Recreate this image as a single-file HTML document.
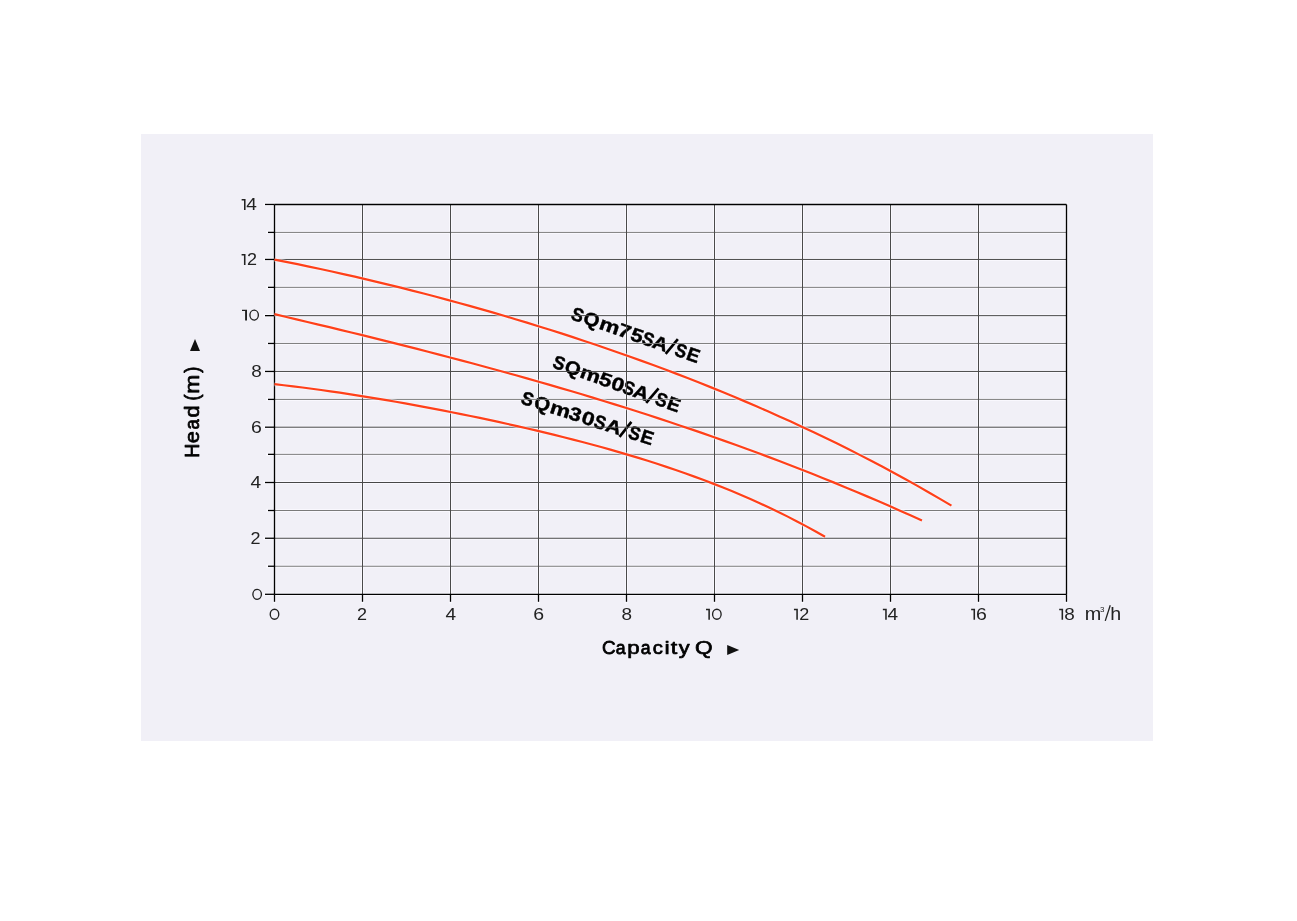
<!DOCTYPE html>
<html><head><meta charset="utf-8"><title>Pump curve</title>
<style>html,body{margin:0;padding:0;background:#fff;width:1297px;height:921px;overflow:hidden;font-family:"Liberation Sans",sans-serif}</style>
</head><body>
<svg width="1297" height="921" viewBox="0 0 1297 921" style="display:block;position:absolute;left:0;top:0;will-change:transform">
<rect x="0" y="0" width="1297" height="921" fill="#ffffff"/>
<rect x="141" y="134" width="1012" height="607" fill="#f1f0f7"/>
<g fill="none">
<line x1="274.50" y1="566.25" x2="1066.50" y2="566.25" stroke="#f9f8fe" stroke-width="3.00" stroke-linecap="square"/>
<line x1="274.50" y1="538.25" x2="1066.50" y2="538.25" stroke="#f9f8fe" stroke-width="3.00" stroke-linecap="square"/>
<line x1="274.50" y1="510.50" x2="1066.50" y2="510.50" stroke="#f9f8fe" stroke-width="3.00" stroke-linecap="square"/>
<line x1="274.50" y1="482.50" x2="1066.50" y2="482.50" stroke="#f9f8fe" stroke-width="3.00" stroke-linecap="square"/>
<line x1="274.50" y1="454.35" x2="1066.50" y2="454.35" stroke="#f9f8fe" stroke-width="3.00" stroke-linecap="square"/>
<line x1="274.50" y1="427.20" x2="1066.50" y2="427.20" stroke="#f9f8fe" stroke-width="3.00" stroke-linecap="square"/>
<line x1="274.50" y1="399.40" x2="1066.50" y2="399.40" stroke="#f9f8fe" stroke-width="3.00" stroke-linecap="square"/>
<line x1="274.50" y1="371.45" x2="1066.50" y2="371.45" stroke="#f9f8fe" stroke-width="3.00" stroke-linecap="square"/>
<line x1="274.50" y1="343.45" x2="1066.50" y2="343.45" stroke="#f9f8fe" stroke-width="3.00" stroke-linecap="square"/>
<line x1="274.50" y1="315.65" x2="1066.50" y2="315.65" stroke="#f9f8fe" stroke-width="3.00" stroke-linecap="square"/>
<line x1="274.50" y1="287.35" x2="1066.50" y2="287.35" stroke="#f9f8fe" stroke-width="3.00" stroke-linecap="square"/>
<line x1="274.50" y1="259.45" x2="1066.50" y2="259.45" stroke="#f9f8fe" stroke-width="3.00" stroke-linecap="square"/>
<line x1="274.50" y1="232.40" x2="1066.50" y2="232.40" stroke="#f9f8fe" stroke-width="3.00" stroke-linecap="square"/>
<line x1="362.50" y1="204.45" x2="362.50" y2="594.30" stroke="#f9f8fe" stroke-width="3.00" stroke-linecap="square"/>
<line x1="450.50" y1="204.45" x2="450.50" y2="594.30" stroke="#f9f8fe" stroke-width="3.00" stroke-linecap="square"/>
<line x1="538.50" y1="204.45" x2="538.50" y2="594.30" stroke="#f9f8fe" stroke-width="3.00" stroke-linecap="square"/>
<line x1="626.50" y1="204.45" x2="626.50" y2="594.30" stroke="#f9f8fe" stroke-width="3.00" stroke-linecap="square"/>
<line x1="714.50" y1="204.45" x2="714.50" y2="594.30" stroke="#f9f8fe" stroke-width="3.00" stroke-linecap="square"/>
<line x1="802.50" y1="204.45" x2="802.50" y2="594.30" stroke="#f9f8fe" stroke-width="3.00" stroke-linecap="square"/>
<line x1="890.50" y1="204.45" x2="890.50" y2="594.30" stroke="#f9f8fe" stroke-width="3.00" stroke-linecap="square"/>
<line x1="978.50" y1="204.45" x2="978.50" y2="594.30" stroke="#f9f8fe" stroke-width="3.00" stroke-linecap="square"/>
<line x1="265.00" y1="594.30" x2="274.50" y2="594.30" stroke="#f9f8fe" stroke-width="3.30" stroke-linecap="square"/>
<line x1="268.00" y1="566.25" x2="274.50" y2="566.25" stroke="#f9f8fe" stroke-width="3.30" stroke-linecap="square"/>
<line x1="265.00" y1="538.25" x2="274.50" y2="538.25" stroke="#f9f8fe" stroke-width="3.30" stroke-linecap="square"/>
<line x1="268.00" y1="510.50" x2="274.50" y2="510.50" stroke="#f9f8fe" stroke-width="3.30" stroke-linecap="square"/>
<line x1="265.00" y1="482.50" x2="274.50" y2="482.50" stroke="#f9f8fe" stroke-width="3.30" stroke-linecap="square"/>
<line x1="268.00" y1="454.35" x2="274.50" y2="454.35" stroke="#f9f8fe" stroke-width="3.30" stroke-linecap="square"/>
<line x1="265.00" y1="427.20" x2="274.50" y2="427.20" stroke="#f9f8fe" stroke-width="3.30" stroke-linecap="square"/>
<line x1="268.00" y1="399.40" x2="274.50" y2="399.40" stroke="#f9f8fe" stroke-width="3.30" stroke-linecap="square"/>
<line x1="265.00" y1="371.45" x2="274.50" y2="371.45" stroke="#f9f8fe" stroke-width="3.30" stroke-linecap="square"/>
<line x1="268.00" y1="343.45" x2="274.50" y2="343.45" stroke="#f9f8fe" stroke-width="3.30" stroke-linecap="square"/>
<line x1="265.00" y1="315.65" x2="274.50" y2="315.65" stroke="#f9f8fe" stroke-width="3.30" stroke-linecap="square"/>
<line x1="268.00" y1="287.35" x2="274.50" y2="287.35" stroke="#f9f8fe" stroke-width="3.30" stroke-linecap="square"/>
<line x1="265.00" y1="259.45" x2="274.50" y2="259.45" stroke="#f9f8fe" stroke-width="3.30" stroke-linecap="square"/>
<line x1="268.00" y1="232.40" x2="274.50" y2="232.40" stroke="#f9f8fe" stroke-width="3.30" stroke-linecap="square"/>
<line x1="265.00" y1="204.45" x2="274.50" y2="204.45" stroke="#f9f8fe" stroke-width="3.30" stroke-linecap="square"/>
<line x1="274.50" y1="594.30" x2="274.50" y2="601.80" stroke="#f9f8fe" stroke-width="3.30" stroke-linecap="square"/>
<line x1="362.50" y1="594.30" x2="362.50" y2="601.80" stroke="#f9f8fe" stroke-width="3.30" stroke-linecap="square"/>
<line x1="450.50" y1="594.30" x2="450.50" y2="601.80" stroke="#f9f8fe" stroke-width="3.30" stroke-linecap="square"/>
<line x1="538.50" y1="594.30" x2="538.50" y2="601.80" stroke="#f9f8fe" stroke-width="3.30" stroke-linecap="square"/>
<line x1="626.50" y1="594.30" x2="626.50" y2="601.80" stroke="#f9f8fe" stroke-width="3.30" stroke-linecap="square"/>
<line x1="714.50" y1="594.30" x2="714.50" y2="601.80" stroke="#f9f8fe" stroke-width="3.30" stroke-linecap="square"/>
<line x1="802.50" y1="594.30" x2="802.50" y2="601.80" stroke="#f9f8fe" stroke-width="3.30" stroke-linecap="square"/>
<line x1="890.50" y1="594.30" x2="890.50" y2="601.80" stroke="#f9f8fe" stroke-width="3.30" stroke-linecap="square"/>
<line x1="978.50" y1="594.30" x2="978.50" y2="601.80" stroke="#f9f8fe" stroke-width="3.30" stroke-linecap="square"/>
<line x1="1066.50" y1="594.30" x2="1066.50" y2="601.80" stroke="#f9f8fe" stroke-width="3.30" stroke-linecap="square"/>
<line x1="274.50" y1="204.45" x2="1066.50" y2="204.45" stroke="#f9f8fe" stroke-width="3.35" stroke-linecap="square"/>
<line x1="274.50" y1="594.30" x2="1066.50" y2="594.30" stroke="#f9f8fe" stroke-width="3.35" stroke-linecap="square"/>
<line x1="274.50" y1="204.45" x2="274.50" y2="594.30" stroke="#f9f8fe" stroke-width="3.35" stroke-linecap="square"/>
<line x1="1066.50" y1="204.45" x2="1066.50" y2="594.30" stroke="#f9f8fe" stroke-width="3.35" stroke-linecap="square"/>
</g>
<g transform="translate(696.58,363.19) rotate(19.2)"><text transform="matrix(0.17780,0,0,0.18823,-133.991,-0.225)" font-size="100" font-weight="bold" fill="#000" stroke="#000" stroke-width="0.45" stroke-linejoin="round" vector-effect="non-scaling-stroke" font-family="Liberation Sans, sans-serif">S</text><text transform="matrix(0.20504,0,0,0.18823,-121.316,-0.225)" font-size="100" font-weight="bold" fill="#000" stroke="#000" stroke-width="0.45" stroke-linejoin="round" vector-effect="non-scaling-stroke" font-family="Liberation Sans, sans-serif">Q</text><text transform="matrix(0.22964,0,0,0.18823,-104.553,-0.225)" font-size="100" font-weight="bold" fill="#000" stroke="#000" stroke-width="0.45" stroke-linejoin="round" vector-effect="non-scaling-stroke" font-family="Liberation Sans, sans-serif">m</text><text transform="matrix(0.22964,0,0,0.18823,-84.772,-0.225)" font-size="100" font-weight="bold" fill="#000" stroke="#000" stroke-width="0.45" stroke-linejoin="round" vector-effect="non-scaling-stroke" font-family="Liberation Sans, sans-serif">7</text><text transform="matrix(0.22032,0,0,0.18823,-71.358,-0.225)" font-size="100" font-weight="bold" fill="#000" stroke="#000" stroke-width="0.45" stroke-linejoin="round" vector-effect="non-scaling-stroke" font-family="Liberation Sans, sans-serif">5</text><text transform="matrix(0.17317,0,0,0.18823,-59.089,-0.225)" font-size="100" font-weight="bold" fill="#000" stroke="#000" stroke-width="0.45" stroke-linejoin="round" vector-effect="non-scaling-stroke" font-family="Liberation Sans, sans-serif">S</text><text transform="matrix(0.21386,0,0,0.18823,-48.310,-0.225)" font-size="100" font-weight="bold" fill="#000" stroke="#000" stroke-width="0.45" stroke-linejoin="round" vector-effect="non-scaling-stroke" font-family="Liberation Sans, sans-serif">A</text><text transform="matrix(0.17317,0,0,0.18823,-24.589,-0.225)" font-size="100" font-weight="bold" fill="#000" stroke="#000" stroke-width="0.45" stroke-linejoin="round" vector-effect="non-scaling-stroke" font-family="Liberation Sans, sans-serif">S</text><text transform="matrix(0.18984,0,0,0.18823,-12.147,-0.225)" font-size="100" font-weight="bold" fill="#000" stroke="#000" stroke-width="0.45" stroke-linejoin="round" vector-effect="non-scaling-stroke" font-family="Liberation Sans, sans-serif">E</text><line x1="-32.3" y1="1.3" x2="-25.6" y2="-16.6" stroke="#000" stroke-width="2.6"/></g><g transform="translate(677.03,412.58) rotate(19.8)"><text transform="matrix(0.17613,0,0,0.18823,-133.586,-0.225)" font-size="100" font-weight="bold" fill="#000" stroke="#000" stroke-width="0.45" stroke-linejoin="round" vector-effect="non-scaling-stroke" font-family="Liberation Sans, sans-serif">S</text><text transform="matrix(0.20360,0,0,0.18823,-121.010,-0.225)" font-size="100" font-weight="bold" fill="#000" stroke="#000" stroke-width="0.45" stroke-linejoin="round" vector-effect="non-scaling-stroke" font-family="Liberation Sans, sans-serif">Q</text><text transform="matrix(0.22964,0,0,0.18823,-104.453,-0.225)" font-size="100" font-weight="bold" fill="#000" stroke="#000" stroke-width="0.45" stroke-linejoin="round" vector-effect="non-scaling-stroke" font-family="Liberation Sans, sans-serif">m</text><text transform="matrix(0.22837,0,0,0.18823,-84.683,-0.225)" font-size="100" font-weight="bold" fill="#000" stroke="#000" stroke-width="0.45" stroke-linejoin="round" vector-effect="non-scaling-stroke" font-family="Liberation Sans, sans-serif">5</text><text transform="matrix(0.22964,0,0,0.18823,-71.522,-0.225)" font-size="100" font-weight="bold" fill="#000" stroke="#000" stroke-width="0.45" stroke-linejoin="round" vector-effect="non-scaling-stroke" font-family="Liberation Sans, sans-serif">0</text><text transform="matrix(0.17317,0,0,0.18823,-59.289,-0.225)" font-size="100" font-weight="bold" fill="#000" stroke="#000" stroke-width="0.45" stroke-linejoin="round" vector-effect="non-scaling-stroke" font-family="Liberation Sans, sans-serif">S</text><text transform="matrix(0.21386,0,0,0.18823,-48.310,-0.225)" font-size="100" font-weight="bold" fill="#000" stroke="#000" stroke-width="0.45" stroke-linejoin="round" vector-effect="non-scaling-stroke" font-family="Liberation Sans, sans-serif">A</text><text transform="matrix(0.17317,0,0,0.18823,-24.589,-0.225)" font-size="100" font-weight="bold" fill="#000" stroke="#000" stroke-width="0.45" stroke-linejoin="round" vector-effect="non-scaling-stroke" font-family="Liberation Sans, sans-serif">S</text><text transform="matrix(0.18984,0,0,0.18823,-12.147,-0.225)" font-size="100" font-weight="bold" fill="#000" stroke="#000" stroke-width="0.45" stroke-linejoin="round" vector-effect="non-scaling-stroke" font-family="Liberation Sans, sans-serif">E</text><line x1="-32.3" y1="1.3" x2="-25.6" y2="-16.6" stroke="#000" stroke-width="2.6"/></g><g transform="translate(650.68,445.54) rotate(17.8)"><text transform="matrix(0.17780,0,0,0.18823,-137.291,-0.225)" font-size="100" font-weight="bold" fill="#000" stroke="#000" stroke-width="0.45" stroke-linejoin="round" vector-effect="non-scaling-stroke" font-family="Liberation Sans, sans-serif">S</text><text transform="matrix(0.20504,0,0,0.18823,-123.816,-0.225)" font-size="100" font-weight="bold" fill="#000" stroke="#000" stroke-width="0.45" stroke-linejoin="round" vector-effect="non-scaling-stroke" font-family="Liberation Sans, sans-serif">Q</text><text transform="matrix(0.22964,0,0,0.18823,-107.153,-0.225)" font-size="100" font-weight="bold" fill="#000" stroke="#000" stroke-width="0.45" stroke-linejoin="round" vector-effect="non-scaling-stroke" font-family="Liberation Sans, sans-serif">m</text><text transform="matrix(0.22032,0,0,0.18823,-87.482,-0.225)" font-size="100" font-weight="bold" fill="#000" stroke="#000" stroke-width="0.45" stroke-linejoin="round" vector-effect="non-scaling-stroke" font-family="Liberation Sans, sans-serif">3</text><text transform="matrix(0.22964,0,0,0.18823,-74.072,-0.225)" font-size="100" font-weight="bold" fill="#000" stroke="#000" stroke-width="0.45" stroke-linejoin="round" vector-effect="non-scaling-stroke" font-family="Liberation Sans, sans-serif">0</text><text transform="matrix(0.17317,0,0,0.18823,-60.789,-0.225)" font-size="100" font-weight="bold" fill="#000" stroke="#000" stroke-width="0.45" stroke-linejoin="round" vector-effect="non-scaling-stroke" font-family="Liberation Sans, sans-serif">S</text><text transform="matrix(0.21684,0,0,0.18823,-48.817,-0.225)" font-size="100" font-weight="bold" fill="#000" stroke="#000" stroke-width="0.45" stroke-linejoin="round" vector-effect="non-scaling-stroke" font-family="Liberation Sans, sans-serif">A</text><text transform="matrix(0.17317,0,0,0.18823,-24.589,-0.225)" font-size="100" font-weight="bold" fill="#000" stroke="#000" stroke-width="0.45" stroke-linejoin="round" vector-effect="non-scaling-stroke" font-family="Liberation Sans, sans-serif">S</text><text transform="matrix(0.18984,0,0,0.18823,-12.147,-0.225)" font-size="100" font-weight="bold" fill="#000" stroke="#000" stroke-width="0.45" stroke-linejoin="round" vector-effect="non-scaling-stroke" font-family="Liberation Sans, sans-serif">E</text><line x1="-32.3" y1="1.3" x2="-25.6" y2="-16.6" stroke="#000" stroke-width="2.6"/></g>
<g fill="none">
<line x1="274.50" y1="566.25" x2="1066.50" y2="566.25" stroke="#7a7a7a" stroke-width="1.0"/>
<line x1="274.50" y1="538.25" x2="1066.50" y2="538.25" stroke="#474747" stroke-width="1.0"/>
<line x1="274.50" y1="510.50" x2="1066.50" y2="510.50" stroke="#7a7a7a" stroke-width="1.0"/>
<line x1="274.50" y1="482.50" x2="1066.50" y2="482.50" stroke="#474747" stroke-width="1.0"/>
<line x1="274.50" y1="454.35" x2="1066.50" y2="454.35" stroke="#7a7a7a" stroke-width="1.0"/>
<line x1="274.50" y1="427.20" x2="1066.50" y2="427.20" stroke="#474747" stroke-width="1.0"/>
<line x1="274.50" y1="399.40" x2="1066.50" y2="399.40" stroke="#7a7a7a" stroke-width="1.0"/>
<line x1="274.50" y1="371.45" x2="1066.50" y2="371.45" stroke="#474747" stroke-width="1.0"/>
<line x1="274.50" y1="343.45" x2="1066.50" y2="343.45" stroke="#7a7a7a" stroke-width="1.0"/>
<line x1="274.50" y1="315.65" x2="1066.50" y2="315.65" stroke="#474747" stroke-width="1.0"/>
<line x1="274.50" y1="287.35" x2="1066.50" y2="287.35" stroke="#7a7a7a" stroke-width="1.0"/>
<line x1="274.50" y1="259.45" x2="1066.50" y2="259.45" stroke="#474747" stroke-width="1.0"/>
<line x1="274.50" y1="232.40" x2="1066.50" y2="232.40" stroke="#7a7a7a" stroke-width="1.0"/>
<line x1="362.50" y1="204.45" x2="362.50" y2="594.30" stroke="#4a4a4a" stroke-width="1.0"/>
<line x1="450.50" y1="204.45" x2="450.50" y2="594.30" stroke="#4a4a4a" stroke-width="1.0"/>
<line x1="538.50" y1="204.45" x2="538.50" y2="594.30" stroke="#4a4a4a" stroke-width="1.0"/>
<line x1="626.50" y1="204.45" x2="626.50" y2="594.30" stroke="#4a4a4a" stroke-width="1.0"/>
<line x1="714.50" y1="204.45" x2="714.50" y2="594.30" stroke="#4a4a4a" stroke-width="1.0"/>
<line x1="802.50" y1="204.45" x2="802.50" y2="594.30" stroke="#4a4a4a" stroke-width="1.0"/>
<line x1="890.50" y1="204.45" x2="890.50" y2="594.30" stroke="#4a4a4a" stroke-width="1.0"/>
<line x1="978.50" y1="204.45" x2="978.50" y2="594.30" stroke="#4a4a4a" stroke-width="1.0"/>
<line x1="265.00" y1="594.30" x2="274.50" y2="594.30" stroke="#000" stroke-width="1.3"/>
<line x1="268.00" y1="566.25" x2="274.50" y2="566.25" stroke="#000" stroke-width="1.3"/>
<line x1="265.00" y1="538.25" x2="274.50" y2="538.25" stroke="#000" stroke-width="1.3"/>
<line x1="268.00" y1="510.50" x2="274.50" y2="510.50" stroke="#000" stroke-width="1.3"/>
<line x1="265.00" y1="482.50" x2="274.50" y2="482.50" stroke="#000" stroke-width="1.3"/>
<line x1="268.00" y1="454.35" x2="274.50" y2="454.35" stroke="#000" stroke-width="1.3"/>
<line x1="265.00" y1="427.20" x2="274.50" y2="427.20" stroke="#000" stroke-width="1.3"/>
<line x1="268.00" y1="399.40" x2="274.50" y2="399.40" stroke="#000" stroke-width="1.3"/>
<line x1="265.00" y1="371.45" x2="274.50" y2="371.45" stroke="#000" stroke-width="1.3"/>
<line x1="268.00" y1="343.45" x2="274.50" y2="343.45" stroke="#000" stroke-width="1.3"/>
<line x1="265.00" y1="315.65" x2="274.50" y2="315.65" stroke="#000" stroke-width="1.3"/>
<line x1="268.00" y1="287.35" x2="274.50" y2="287.35" stroke="#000" stroke-width="1.3"/>
<line x1="265.00" y1="259.45" x2="274.50" y2="259.45" stroke="#000" stroke-width="1.3"/>
<line x1="268.00" y1="232.40" x2="274.50" y2="232.40" stroke="#000" stroke-width="1.3"/>
<line x1="265.00" y1="204.45" x2="274.50" y2="204.45" stroke="#000" stroke-width="1.3"/>
<line x1="274.50" y1="594.30" x2="274.50" y2="601.80" stroke="#000" stroke-width="1.3"/>
<line x1="362.50" y1="594.30" x2="362.50" y2="601.80" stroke="#000" stroke-width="1.3"/>
<line x1="450.50" y1="594.30" x2="450.50" y2="601.80" stroke="#000" stroke-width="1.3"/>
<line x1="538.50" y1="594.30" x2="538.50" y2="601.80" stroke="#000" stroke-width="1.3"/>
<line x1="626.50" y1="594.30" x2="626.50" y2="601.80" stroke="#000" stroke-width="1.3"/>
<line x1="714.50" y1="594.30" x2="714.50" y2="601.80" stroke="#000" stroke-width="1.3"/>
<line x1="802.50" y1="594.30" x2="802.50" y2="601.80" stroke="#000" stroke-width="1.3"/>
<line x1="890.50" y1="594.30" x2="890.50" y2="601.80" stroke="#000" stroke-width="1.3"/>
<line x1="978.50" y1="594.30" x2="978.50" y2="601.80" stroke="#000" stroke-width="1.3"/>
<line x1="1066.50" y1="594.30" x2="1066.50" y2="601.80" stroke="#000" stroke-width="1.3"/>
<line x1="274.50" y1="204.45" x2="1066.50" y2="204.45" stroke="#000" stroke-width="1.35"/>
<line x1="274.50" y1="594.30" x2="1066.50" y2="594.30" stroke="#000" stroke-width="1.35"/>
<line x1="274.50" y1="204.45" x2="274.50" y2="594.30" stroke="#000" stroke-width="1.35"/>
<line x1="1066.50" y1="204.45" x2="1066.50" y2="594.30" stroke="#000" stroke-width="1.35"/>
</g>
<path d="M274.50,259.59 L285.97,261.86 L297.45,264.18 L308.92,266.57 L320.39,269.01 L331.87,271.51 L343.34,274.06 L354.82,276.67 L366.29,279.34 L377.76,282.07 L389.24,284.85 L400.71,287.69 L412.18,290.58 L423.66,293.53 L435.13,296.53 L446.61,299.60 L458.08,302.71 L469.55,305.89 L481.03,309.12 L492.50,312.42 L503.97,315.77 L515.45,319.18 L526.92,322.65 L538.40,326.18 L549.87,329.77 L561.34,333.42 L572.82,337.14 L584.29,340.92 L595.76,344.77 L607.24,348.68 L618.71,352.67 L630.19,356.72 L641.66,360.84 L653.13,365.03 L664.61,369.30 L676.08,373.64 L687.55,378.06 L699.03,382.56 L710.50,387.14 L721.98,391.80 L733.45,396.54 L744.92,401.37 L756.40,406.29 L767.87,411.29 L779.34,416.39 L790.82,421.59 L802.29,426.88 L813.77,432.27 L825.24,437.76 L836.71,443.35 L848.19,449.06 L859.66,454.87 L871.13,460.79 L882.61,466.83 L894.08,472.98 L905.56,479.26 L917.03,485.66 L928.50,492.18 L939.98,498.84 L951.45,505.63" fill="none" stroke="#f9f8fe" stroke-opacity="0.55" stroke-width="4.0" stroke-linecap="butt" stroke-linejoin="round"/>
<path d="M274.50,259.59 L285.97,261.86 L297.45,264.18 L308.92,266.57 L320.39,269.01 L331.87,271.51 L343.34,274.06 L354.82,276.67 L366.29,279.34 L377.76,282.07 L389.24,284.85 L400.71,287.69 L412.18,290.58 L423.66,293.53 L435.13,296.53 L446.61,299.60 L458.08,302.71 L469.55,305.89 L481.03,309.12 L492.50,312.42 L503.97,315.77 L515.45,319.18 L526.92,322.65 L538.40,326.18 L549.87,329.77 L561.34,333.42 L572.82,337.14 L584.29,340.92 L595.76,344.77 L607.24,348.68 L618.71,352.67 L630.19,356.72 L641.66,360.84 L653.13,365.03 L664.61,369.30 L676.08,373.64 L687.55,378.06 L699.03,382.56 L710.50,387.14 L721.98,391.80 L733.45,396.54 L744.92,401.37 L756.40,406.29 L767.87,411.29 L779.34,416.39 L790.82,421.59 L802.29,426.88 L813.77,432.27 L825.24,437.76 L836.71,443.35 L848.19,449.06 L859.66,454.87 L871.13,460.79 L882.61,466.83 L894.08,472.98 L905.56,479.26 L917.03,485.66 L928.50,492.18 L939.98,498.84 L951.45,505.63" fill="none" stroke="#ff4019" stroke-width="2.2" stroke-linecap="butt" stroke-linejoin="round"/>
<path d="M274.50,314.19 L285.47,316.77 L296.45,319.35 L307.42,321.95 L318.39,324.56 L329.37,327.19 L340.34,329.84 L351.32,332.50 L362.29,335.19 L373.26,337.89 L384.24,340.61 L395.21,343.35 L406.18,346.12 L417.16,348.91 L428.13,351.73 L439.11,354.57 L450.08,357.44 L461.05,360.33 L472.03,363.26 L483.00,366.21 L493.97,369.20 L504.95,372.22 L515.92,375.27 L526.90,378.35 L537.87,381.47 L548.84,384.63 L559.82,387.82 L570.79,391.05 L581.76,394.32 L592.74,397.63 L603.71,400.98 L614.69,404.37 L625.66,407.81 L636.63,411.29 L647.61,414.81 L658.58,418.39 L669.55,422.00 L680.53,425.67 L691.50,429.39 L702.48,433.15 L713.45,436.97 L724.42,440.84 L735.40,444.76 L746.37,448.74 L757.34,452.77 L768.32,456.86 L779.29,461.01 L790.27,465.21 L801.24,469.48 L812.21,473.80 L823.19,478.19 L834.16,482.64 L845.13,487.15 L856.11,491.73 L867.08,496.37 L878.06,501.08 L889.03,505.86 L900.00,510.70 L910.98,515.61 L921.95,520.60" fill="none" stroke="#f9f8fe" stroke-opacity="0.55" stroke-width="4.0" stroke-linecap="butt" stroke-linejoin="round"/>
<path d="M274.50,314.19 L285.47,316.77 L296.45,319.35 L307.42,321.95 L318.39,324.56 L329.37,327.19 L340.34,329.84 L351.32,332.50 L362.29,335.19 L373.26,337.89 L384.24,340.61 L395.21,343.35 L406.18,346.12 L417.16,348.91 L428.13,351.73 L439.11,354.57 L450.08,357.44 L461.05,360.33 L472.03,363.26 L483.00,366.21 L493.97,369.20 L504.95,372.22 L515.92,375.27 L526.90,378.35 L537.87,381.47 L548.84,384.63 L559.82,387.82 L570.79,391.05 L581.76,394.32 L592.74,397.63 L603.71,400.98 L614.69,404.37 L625.66,407.81 L636.63,411.29 L647.61,414.81 L658.58,418.39 L669.55,422.00 L680.53,425.67 L691.50,429.39 L702.48,433.15 L713.45,436.97 L724.42,440.84 L735.40,444.76 L746.37,448.74 L757.34,452.77 L768.32,456.86 L779.29,461.01 L790.27,465.21 L801.24,469.48 L812.21,473.80 L823.19,478.19 L834.16,482.64 L845.13,487.15 L856.11,491.73 L867.08,496.37 L878.06,501.08 L889.03,505.86 L900.00,510.70 L910.98,515.61 L921.95,520.60" fill="none" stroke="#ff4019" stroke-width="2.2" stroke-linecap="butt" stroke-linejoin="round"/>
<path d="M274.50,384.19 L283.83,385.24 L293.16,386.35 L302.49,387.52 L311.83,388.74 L321.16,390.02 L330.49,391.34 L339.82,392.70 L349.15,394.12 L358.48,395.57 L367.81,397.07 L377.14,398.60 L386.48,400.18 L395.81,401.79 L405.14,403.44 L414.47,405.13 L423.80,406.85 L433.13,408.61 L442.46,410.40 L451.80,412.23 L461.13,414.10 L470.46,416.00 L479.79,417.93 L489.12,419.91 L498.45,421.92 L507.78,423.98 L517.12,426.07 L526.45,428.21 L535.78,430.39 L545.11,432.62 L554.44,434.89 L563.77,437.22 L573.10,439.59 L582.43,442.03 L591.77,444.51 L601.10,447.06 L610.43,449.68 L619.76,452.35 L629.09,455.10 L638.42,457.92 L647.75,460.82 L657.09,463.80 L666.42,466.87 L675.75,470.02 L685.08,473.27 L694.41,476.62 L703.74,480.07 L713.07,483.62 L722.41,487.29 L731.74,491.08 L741.07,495.00 L750.40,499.04 L759.73,503.22 L769.06,507.54 L778.39,512.00 L787.72,516.62 L797.06,521.41 L806.39,526.35 L815.72,531.48 L825.05,536.78" fill="none" stroke="#f9f8fe" stroke-opacity="0.55" stroke-width="4.0" stroke-linecap="butt" stroke-linejoin="round"/>
<path d="M274.50,384.19 L283.83,385.24 L293.16,386.35 L302.49,387.52 L311.83,388.74 L321.16,390.02 L330.49,391.34 L339.82,392.70 L349.15,394.12 L358.48,395.57 L367.81,397.07 L377.14,398.60 L386.48,400.18 L395.81,401.79 L405.14,403.44 L414.47,405.13 L423.80,406.85 L433.13,408.61 L442.46,410.40 L451.80,412.23 L461.13,414.10 L470.46,416.00 L479.79,417.93 L489.12,419.91 L498.45,421.92 L507.78,423.98 L517.12,426.07 L526.45,428.21 L535.78,430.39 L545.11,432.62 L554.44,434.89 L563.77,437.22 L573.10,439.59 L582.43,442.03 L591.77,444.51 L601.10,447.06 L610.43,449.68 L619.76,452.35 L629.09,455.10 L638.42,457.92 L647.75,460.82 L657.09,463.80 L666.42,466.87 L675.75,470.02 L685.08,473.27 L694.41,476.62 L703.74,480.07 L713.07,483.62 L722.41,487.29 L731.74,491.08 L741.07,495.00 L750.40,499.04 L759.73,503.22 L769.06,507.54 L778.39,512.00 L787.72,516.62 L797.06,521.41 L806.39,526.35 L815.72,531.48 L825.05,536.78" fill="none" stroke="#ff4019" stroke-width="2.2" stroke-linecap="butt" stroke-linejoin="round"/>
<path d="M241.65,199.10 H245.55 V209.95 H244.00 V200.50 H241.65 Z" fill="#222222"/><text transform="matrix(0.19048,0,0,0.16134,246.312,210.050)" font-size="100" font-weight="normal" fill="#222222" font-family="Liberation Sans, sans-serif">4</text>
<path d="M241.60,254.10 H245.50 V264.95 H243.95 V255.50 H241.60 Z" fill="#222222"/><text transform="matrix(0.17982,0,0,0.15831,247.001,265.000)" font-size="100" font-weight="normal" fill="#222222" font-family="Liberation Sans, sans-serif">2</text>
<path d="M242.00,309.70 H247.00 V320.55 H245.10 V311.10 H242.00 Z" fill="#222222"/><ellipse cx="254.15" cy="315.12" rx="4.23" ry="5.00" fill="none" stroke="#222222" stroke-width="1.35"/>
<text transform="matrix(0.18936,0,0,0.16102,251.186,377.039)" font-size="100" font-weight="normal" fill="#222222" font-family="Liberation Sans, sans-serif">8</text>
<text transform="matrix(0.19523,0,0,0.16102,251.004,432.789)" font-size="100" font-weight="normal" fill="#222222" font-family="Liberation Sans, sans-serif">6</text>
<text transform="matrix(0.19048,0,0,0.16134,250.562,488.100)" font-size="100" font-weight="normal" fill="#222222" font-family="Liberation Sans, sans-serif">4</text>
<text transform="matrix(0.17982,0,0,0.15831,250.501,543.800)" font-size="100" font-weight="normal" fill="#222222" font-family="Liberation Sans, sans-serif">2</text>
<ellipse cx="257.15" cy="594.37" rx="4.27" ry="5.00" fill="none" stroke="#222222" stroke-width="1.35"/>
<ellipse cx="274.50" cy="614.27" rx="4.27" ry="5.00" fill="none" stroke="#222222" stroke-width="1.35"/>
<text transform="matrix(0.17982,0,0,0.15831,357.001,619.750)" font-size="100" font-weight="normal" fill="#222222" font-family="Liberation Sans, sans-serif">2</text>
<text transform="matrix(0.19048,0,0,0.16134,445.562,619.800)" font-size="100" font-weight="normal" fill="#222222" font-family="Liberation Sans, sans-serif">4</text>
<text transform="matrix(0.19523,0,0,0.16102,533.204,619.789)" font-size="100" font-weight="normal" fill="#222222" font-family="Liberation Sans, sans-serif">6</text>
<text transform="matrix(0.18936,0,0,0.16102,621.536,619.789)" font-size="100" font-weight="normal" fill="#222222" font-family="Liberation Sans, sans-serif">8</text>
<path d="M706.00,608.85 H709.90 V619.70 H708.35 V610.25 H706.00 Z" fill="#222222"/><ellipse cx="716.85" cy="614.27" rx="4.27" ry="5.00" fill="none" stroke="#222222" stroke-width="1.35"/>
<path d="M793.95,608.85 H797.85 V619.70 H796.30 V610.25 H793.95 Z" fill="#222222"/><text transform="matrix(0.17982,0,0,0.15831,799.351,619.750)" font-size="100" font-weight="normal" fill="#222222" font-family="Liberation Sans, sans-serif">2</text>
<path d="M882.85,608.85 H886.75 V619.70 H885.20 V610.25 H882.85 Z" fill="#222222"/><text transform="matrix(0.19048,0,0,0.16134,887.512,619.800)" font-size="100" font-weight="normal" fill="#222222" font-family="Liberation Sans, sans-serif">4</text>
<path d="M971.15,608.85 H975.05 V619.70 H973.50 V610.25 H971.15 Z" fill="#222222"/><text transform="matrix(0.19523,0,0,0.16102,976.054,619.789)" font-size="100" font-weight="normal" fill="#222222" font-family="Liberation Sans, sans-serif">6</text>
<path d="M1059.20,608.85 H1063.10 V619.70 H1061.55 V610.25 H1059.20 Z" fill="#222222"/><text transform="matrix(0.18936,0,0,0.16102,1064.286,619.789)" font-size="100" font-weight="normal" fill="#222222" font-family="Liberation Sans, sans-serif">8</text>
<text transform="matrix(0.19829,0,0,0.17472,1084.691,619.900)" font-size="100" font-weight="normal" fill="#222222" font-family="Liberation Sans, sans-serif">m</text>
<text transform="matrix(0.08017,0,0,0.08051,1099.895,611.819)" font-size="100" font-weight="normal" fill="#222222" font-family="Liberation Sans, sans-serif">3</text>
<line x1="1105.25" y1="620.9" x2="1110.25" y2="605.2" stroke="#222222" stroke-width="1.3"/>
<text transform="matrix(0.19668,0,0,0.17517,1110.143,619.900)" font-size="100" font-weight="normal" fill="#222222" font-family="Liberation Sans, sans-serif">h</text>
<g transform="translate(0,654.2)"><text transform="matrix(0.18878,0,0,0.19259,602.012,-0.375)" font-size="100" font-weight="normal" fill="#000" stroke="#000" stroke-width="0.75" stroke-linejoin="round" vector-effect="non-scaling-stroke" font-family="Liberation Sans, sans-serif">C</text><text transform="matrix(0.17718,0,0,0.19259,615.852,-0.375)" font-size="100" font-weight="normal" fill="#000" stroke="#000" stroke-width="0.75" stroke-linejoin="round" vector-effect="non-scaling-stroke" font-family="Liberation Sans, sans-serif">a</text><text transform="matrix(0.22333,0,0,0.19259,627.246,-0.375)" font-size="100" font-weight="normal" fill="#000" stroke="#000" stroke-width="0.75" stroke-linejoin="round" vector-effect="non-scaling-stroke" font-family="Liberation Sans, sans-serif">p</text><text transform="matrix(0.17718,0,0,0.19259,640.702,-0.375)" font-size="100" font-weight="normal" fill="#000" stroke="#000" stroke-width="0.75" stroke-linejoin="round" vector-effect="non-scaling-stroke" font-family="Liberation Sans, sans-serif">a</text><text transform="matrix(0.20255,0,0,0.19259,652.824,-0.375)" font-size="100" font-weight="normal" fill="#000" stroke="#000" stroke-width="0.75" stroke-linejoin="round" vector-effect="non-scaling-stroke" font-family="Liberation Sans, sans-serif">c</text><text transform="matrix(0.23295,0,0,0.19259,664.514,-0.375)" font-size="100" font-weight="normal" fill="#000" stroke="#000" stroke-width="0.75" stroke-linejoin="round" vector-effect="non-scaling-stroke" font-family="Liberation Sans, sans-serif">i</text><text transform="matrix(0.23496,0,0,0.19259,670.690,-0.375)" font-size="100" font-weight="normal" fill="#000" stroke="#000" stroke-width="0.75" stroke-linejoin="round" vector-effect="non-scaling-stroke" font-family="Liberation Sans, sans-serif">t</text><text transform="matrix(0.21717,0,0,0.19259,678.710,-0.375)" font-size="100" font-weight="normal" fill="#000" stroke="#000" stroke-width="0.75" stroke-linejoin="round" vector-effect="non-scaling-stroke" font-family="Liberation Sans, sans-serif">y</text><text transform="matrix(0.22621,0,0,0.19259,695.012,-0.375)" font-size="100" font-weight="normal" fill="#000" stroke="#000" stroke-width="0.75" stroke-linejoin="round" vector-effect="non-scaling-stroke" font-family="Liberation Sans, sans-serif">Q</text></g>
<path d="M727.2,645 L739.2,650 L727.2,655 Z" fill="#111"/>
<g transform="translate(199.5,460) rotate(-90)"><text transform="matrix(0.19589,0,0,0.19695,2.169,-0.375)" font-size="100" font-weight="normal" fill="#000" stroke="#000" stroke-width="0.75" stroke-linejoin="round" vector-effect="non-scaling-stroke" font-family="Liberation Sans, sans-serif">H</text><text transform="matrix(0.21809,0,0,0.19695,16.659,-0.375)" font-size="100" font-weight="normal" fill="#000" stroke="#000" stroke-width="0.75" stroke-linejoin="round" vector-effect="non-scaling-stroke" font-family="Liberation Sans, sans-serif">e</text><text transform="matrix(0.18385,0,0,0.19695,30.403,-0.375)" font-size="100" font-weight="normal" fill="#000" stroke="#000" stroke-width="0.75" stroke-linejoin="round" vector-effect="non-scaling-stroke" font-family="Liberation Sans, sans-serif">a</text><text transform="matrix(0.21667,0,0,0.19695,42.565,-0.375)" font-size="100" font-weight="normal" fill="#000" stroke="#000" stroke-width="0.75" stroke-linejoin="round" vector-effect="non-scaling-stroke" font-family="Liberation Sans, sans-serif">d</text><text transform="matrix(0.18119,0,0,0.19695,59.576,-0.375)" font-size="100" font-weight="normal" fill="#000" stroke="#000" stroke-width="0.75" stroke-linejoin="round" vector-effect="non-scaling-stroke" font-family="Liberation Sans, sans-serif">(</text><text transform="matrix(0.22896,0,0,0.19695,66.264,-0.375)" font-size="100" font-weight="normal" fill="#000" stroke="#000" stroke-width="0.75" stroke-linejoin="round" vector-effect="non-scaling-stroke" font-family="Liberation Sans, sans-serif">m</text><text transform="matrix(0.18119,0,0,0.19695,87.190,-0.375)" font-size="100" font-weight="normal" fill="#000" stroke="#000" stroke-width="0.75" stroke-linejoin="round" vector-effect="non-scaling-stroke" font-family="Liberation Sans, sans-serif">)</text></g>
<path d="M190,350.9 L200,350.9 L195,339.1 Z" fill="#111"/>
</svg>
</body></html>
